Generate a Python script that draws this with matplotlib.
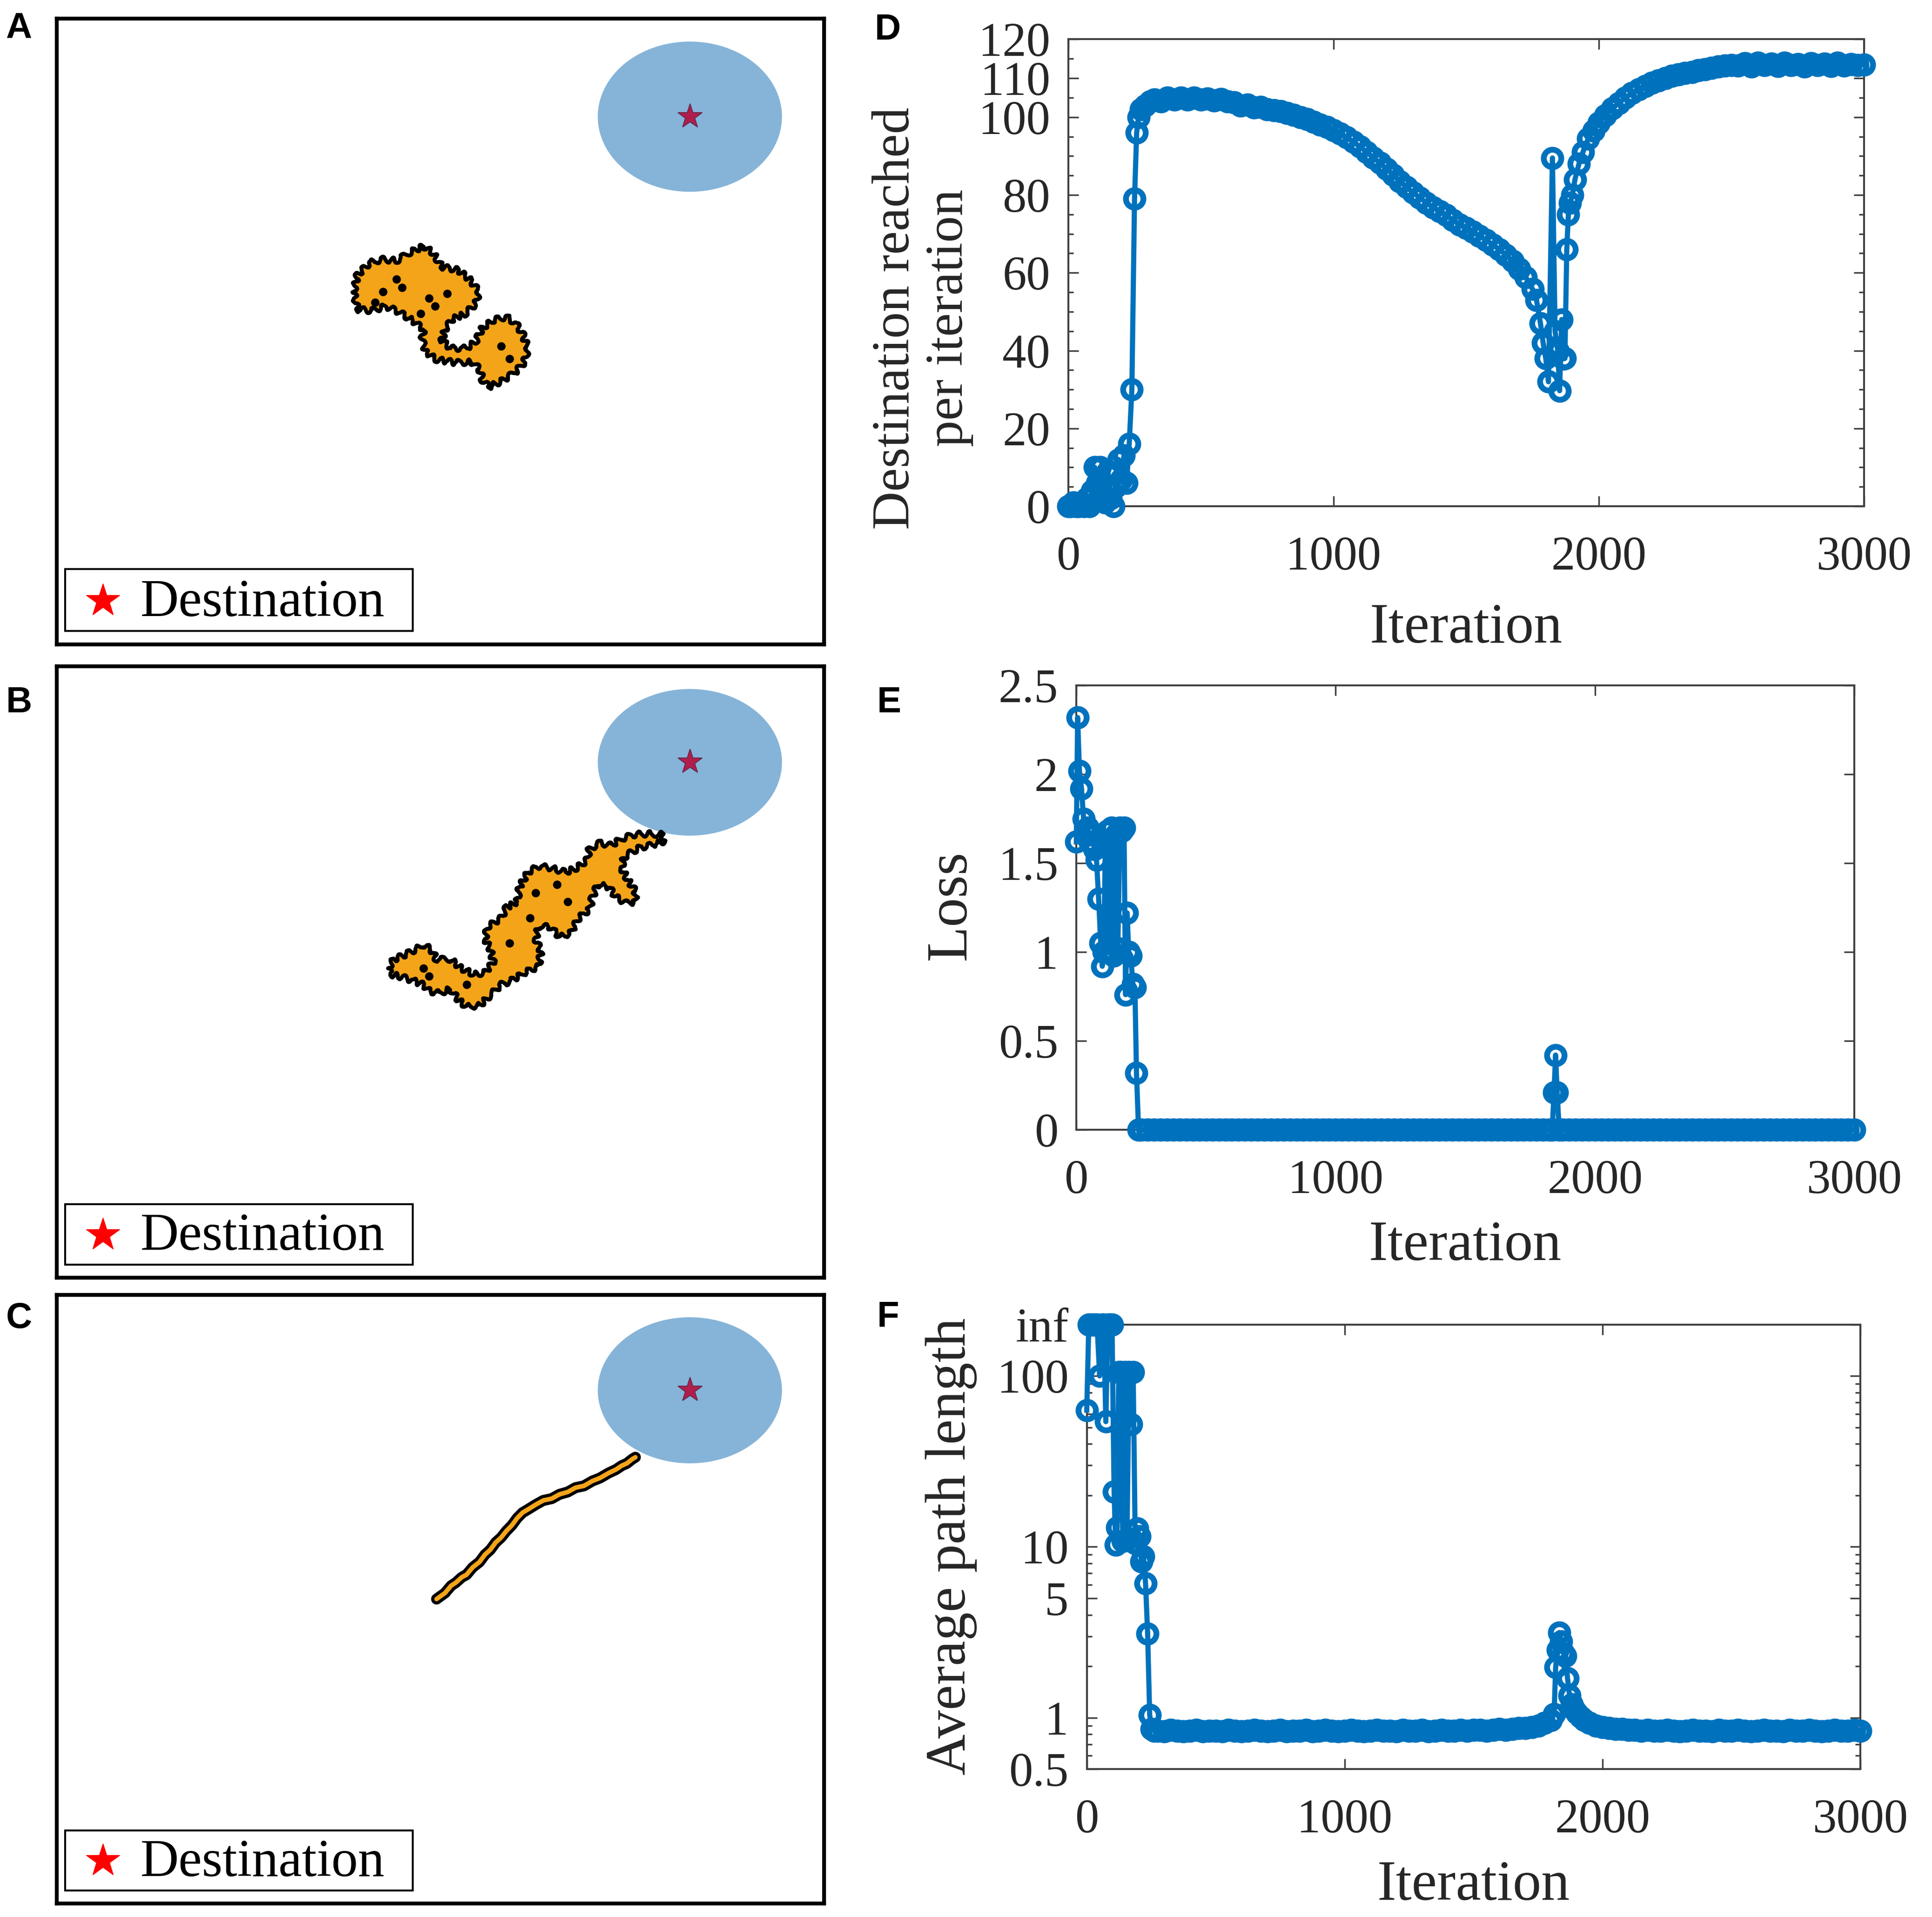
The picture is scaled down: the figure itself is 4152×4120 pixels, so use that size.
import numpy as np
import matplotlib
matplotlib.use("Agg")
import matplotlib.pyplot as plt
from matplotlib.patches import Circle, Polygon, Rectangle
from matplotlib.ticker import MultipleLocator, LogLocator, NullFormatter

plt.rcParams['font.family'] = ['Liberation Serif', 'DejaVu Serif']

BLUE = '#0072BD'
ORANGE = '#F4A418'
DISC = '#86B4D8'
AXCOL = '#404040'
TXT = '#262626'

# ---- field panels A-C (field units 0..100) ----
dest_xy = (82.5, 84.3)
dest_radius = 12.0

blob_a = [(38.7, 56.3), (39.2, 59.0), (40.8, 61.0), (42.5, 61.5), (44.3, 61.3), (46.0, 62.6),
          (47.8, 63.6), (49.0, 62.6), (50.2, 60.3), (52.3, 59.8), (53.9, 58.2), (55.0, 56.3),
          (54.6, 54.4), (53.2, 52.8), (51.6, 52.0), (50.6, 50.3), (50.2, 48.6), (51.3, 47.3),
          (53.4, 47.3), (54.6, 48.4), (55.5, 50.6), (56.9, 51.8), (58.6, 52.3), (59.8, 51.3),
          (60.7, 49.6), (61.4, 47.3), (60.9, 45.0), (59.6, 43.3), (57.9, 42.0), (56.3, 41.1),
          (55.5, 42.2), (55.1, 44.0), (54.1, 45.1), (52.0, 45.0), (49.5, 45.5), (48.1, 46.7),
          (47.6, 48.6), (47.8, 50.3), (46.4, 51.7), (44.6, 53.1), (42.9, 54.0), (41.1, 53.3),
          (39.2, 53.5)]
specks_a = [(42.5, 56.3), (45.0, 57.0), (48.5, 55.3), (49.3, 54.0), (47.4, 52.8), (44.3, 58.3),
            (50.9, 56.0), (41.5, 54.6), (57.9, 47.6), (59.0, 45.6)]

blob_b = [(43.2, 50.6), (43.9, 52.0), (45.7, 53.0), (47.8, 54.4), (48.8, 53.7), (49.5, 52.0),
          (51.3, 52.1), (52.7, 50.6), (54.4, 49.6), (55.8, 49.9), (56.9, 51.6), (56.5, 53.7),
          (55.8, 55.4), (56.2, 57.4), (57.9, 58.8), (58.6, 60.5), (60.0, 61.5), (60.3, 63.9),
          (61.4, 66.3), (62.8, 67.3), (64.5, 67.0), (66.3, 66.3), (67.7, 67.0), (69.1, 68.3),
          (69.4, 70.1), (70.8, 71.1), (72.2, 70.7), (73.6, 71.8), (75.4, 72.5), (77.1, 72.6),
          (78.8, 72.5), (79.2, 71.4), (77.4, 70.7), (76.1, 70.4), (75.0, 69.7), (73.9, 68.7),
          (73.6, 67.0), (74.3, 65.3), (75.4, 63.2), (75.4, 61.5), (74.3, 61.2), (72.9, 62.2),
          (71.9, 63.9), (70.5, 64.3), (69.8, 62.2), (69.4, 60.2), (68.0, 58.8), (67.0, 56.4),
          (65.6, 55.7), (64.2, 57.4), (62.8, 57.4), (62.4, 55.4), (63.1, 53.3), (62.8, 50.9),
          (61.0, 49.9), (59.3, 48.6), (57.9, 47.9), (56.5, 46.2), (55.1, 44.5), (53.4, 44.3),
          (52.3, 45.5), (51.3, 47.2), (49.9, 46.5), (48.5, 46.9), (47.8, 47.9), (46.4, 48.6),
          (44.6, 49.3), (43.5, 49.6)]
specks_b = [(47.8, 50.6), (48.5, 49.3), (62.4, 62.9), (65.2, 64.3), (66.6, 61.5), (59.0, 54.7),
            (61.7, 58.8), (53.4, 47.9)]

path_c = [(49.5, 50.0), (50.6, 51.0), (51.4, 52.2), (52.0, 52.7), (52.8, 53.6), (53.4, 54.0),
          (54.2, 55.2), (55.1, 56.1), (55.8, 57.3), (56.5, 58.1), (57.2, 59.3), (57.9, 60.1),
          (58.6, 61.2), (59.3, 62.1), (60.0, 63.3), (60.7, 64.2), (61.5, 64.8), (62.4, 65.5),
          (63.4, 66.2), (64.5, 66.5), (65.5, 67.2), (66.6, 67.6), (67.6, 68.3), (68.7, 68.6),
          (69.8, 69.4), (70.8, 69.9), (71.9, 70.7), (72.9, 71.3), (73.6, 71.9), (74.3, 72.3),
          (75.0, 73.0), (75.4, 73.3)]

# ---- D: destination reached per iteration ----
d_iter_start = [0, 10, 20, 30, 40, 50, 60, 70, 80, 90, 100, 110, 120, 130, 140, 150, 160, 170,
                180, 190, 200, 210, 220, 230, 240, 250, 258, 265, 275, 290, 310]
d_val_start = [0, 0, 1, 0, 0, 1, 0, 2, 0, 4, 10, 6, 10, 3, 1, 9, 2, 0, 5, 12, 7, 13, 6, 16, 30,
               79, 96, 100, 102, 103, 104]
d_iter_decline = list(range(325, 1751, 25))
d_val_decline = [104.5, 104, 105, 104.5, 105, 104.5, 105, 104.5, 104.8, 104.3,
                 104.6, 104, 103.8, 103, 103.2, 102.5, 102.6, 102, 101.8, 101.5,
                 101, 100.6, 100, 99.5, 98.8, 98, 97.4, 96.6, 95.8, 94.8,
                 93.6, 92.4, 91, 89.6, 88.2, 86.7, 85.2, 83.5, 82, 80.6,
                 79.3, 78, 76.8, 75.8, 74.8, 73.5, 72.4, 71.5, 70.5, 69.5,
                 68.4, 67.2, 66, 64.6, 63, 61, 58.8, 55.8]
d_iter_dip = [1765, 1780, 1790, 1800, 1810, 1825, 1835, 1845, 1852, 1860, 1866, 1872, 1879,
              1885, 1892, 1900, 1910, 1925, 1940, 1960, 1980]
d_val_dip = [53, 47, 42, 38, 32, 89.5, 45, 40, 29.7, 48, 37.9, 38, 66, 75, 78, 80, 84, 88, 91,
             94.5, 96.5]
d_iter_recover = list(range(2000, 2501, 25))
d_val_recover = [98.5, 100.5, 102.2, 103.6, 105, 106.2, 107.2, 108, 108.8, 109.4, 110, 110.6,
                 111, 111.3, 111.6, 112, 112.3, 112.6, 113, 113.2, 113.4]
d_iter_end = list(range(2525, 3001, 25))
d_val_end = [113.2, 113.8, 113.0, 113.9, 113.3, 113.7, 113.1, 113.9, 113.4, 113.6,
             113.0, 113.8, 113.3, 113.7, 113.1, 113.9, 113.2, 113.6, 113.4, 113.5]
d_yticks = [0, 20, 40, 60, 80, 100, 110, 120]

# ---- E: loss ----
e_iter_start = [0, 5, 12, 20, 28, 36, 44, 52, 60, 70, 78, 86, 94, 100, 106, 112, 120, 128, 136,
                144, 152, 160, 168, 176, 184, 190, 196, 202, 210, 218, 226, 232, 240]
e_loss_start = [1.62, 2.32, 2.02, 1.92, 1.75, 1.68, 1.70, 1.62, 1.66, 1.58,
                1.52, 1.30, 1.05, 0.92, 1.00, 1.62, 1.68, 1.00, 1.70, 0.98,
                1.66, 1.02, 1.70, 1.68, 1.70, 0.76, 1.22, 1.00, 0.98, 0.82,
                0.80, 0.32, 0.0]
e_iter_flat1 = list(range(250, 1826, 25))
e_loss_flat1 = [0, 0, 0, 0, 0, 0, 0, 0, 0, 0, 0, 0, 0, 0, 0, 0,
                0, 0, 0, 0, 0, 0, 0, 0, 0, 0, 0, 0, 0, 0, 0, 0,
                0, 0, 0, 0, 0, 0, 0, 0, 0, 0, 0, 0, 0, 0, 0, 0,
                0, 0, 0, 0, 0, 0, 0, 0, 0, 0, 0, 0, 0, 0, 0, 0]
e_iter_spike = [1835, 1842, 1848, 1854, 1862]
e_loss_spike = [0.0, 0.21, 0.42, 0.21, 0.0]
e_iter_flat2 = list(range(1875, 3001, 25))
e_loss_flat2 = [0, 0, 0, 0, 0, 0, 0, 0, 0, 0, 0, 0, 0, 0, 0, 0,
                0, 0, 0, 0, 0, 0, 0, 0, 0, 0, 0, 0, 0, 0, 0, 0,
                0, 0, 0, 0, 0, 0, 0, 0, 0, 0, 0, 0, 0, 0]
e_yticks = [0, 0.5, 1, 1.5, 2, 2.5]
e_yticklabels = ['0', '0.5', '1', '1.5', '2', '2.5']

# ---- F: average path length (inf drawn at the top of the axis) ----
INF_LEVEL = 200
f_iter_start = [0, 8, 16, 24, 32, 40, 50, 58, 66, 74, 82, 90, 98, 106, 112, 118, 124, 132,
                140, 148, 156, 164, 172, 180, 188, 196, 204, 212, 220, 228, 236, 244, 252, 262]
f_val_start = [63, 200, 200, 200, 200, 200, 100, 200, 200, 54,
               200, 200, 200, 21, 10.3, 13, 105, 105, 10.8, 105,
               11, 105, 52, 105, 10.5, 12.8, 11.5, 8.2, 8.8, 6.1,
               3.1, 1.04, 0.86, 0.84]
f_iter_plateau = list(range(275, 1801, 25))
f_val_plateau = [0.84, 0.83, 0.85, 0.84, 0.83, 0.84, 0.85, 0.83, 0.84, 0.84,
                 0.83, 0.85, 0.84, 0.83, 0.84, 0.85, 0.84, 0.83, 0.84, 0.85,
                 0.83, 0.84, 0.84, 0.85, 0.83, 0.84, 0.85, 0.84, 0.83, 0.84,
                 0.85, 0.84, 0.83, 0.84, 0.85, 0.84, 0.84, 0.83, 0.85, 0.84,
                 0.84, 0.85, 0.83, 0.84, 0.85, 0.84, 0.84, 0.85, 0.84, 0.85,
                 0.85, 0.84, 0.85, 0.86, 0.85, 0.86, 0.87, 0.87, 0.88, 0.90,
                 0.93, 0.97]
f_iter_spike = [1812, 1818, 1826, 1832, 1840, 1848, 1856, 1864, 1872, 1880, 1890, 1900, 1915,
                1930, 1950, 1975, 2000, 2025, 2050]
f_val_spike = [1.05, 1.98, 2.5, 3.15, 2.8, 2.39, 2.3, 1.7, 1.35, 1.2, 1.12, 1.06, 1.01, 0.97,
               0.93, 0.90, 0.88, 0.87, 0.86]
f_iter_end = list(range(2075, 3001, 25))
f_val_end = [0.86, 0.85, 0.85, 0.84, 0.85, 0.84, 0.84, 0.85, 0.84, 0.83,
             0.84, 0.85, 0.84, 0.84, 0.83, 0.85, 0.84, 0.84, 0.85, 0.84,
             0.83, 0.84, 0.85, 0.84, 0.84, 0.83, 0.85, 0.84, 0.84, 0.85,
             0.84, 0.83, 0.84, 0.85, 0.84, 0.84, 0.85, 0.84]
f_yticks = [0.5, 1, 5, 10, 100, INF_LEVEL]
f_yticklabels = ['0.5', '1', '5', '10', '100', 'inf']

x_ticks = [0, 1000, 2000, 3000]


def joined(*pairs):
    xs, ys = [], []
    for x, y in pairs:
        assert len(x) == len(y), (len(x), len(y))
        xs += list(x); ys += list(y)
    return np.array(xs, float), np.array(ys, float)


def draw_field(ax, blob=None, specks=None, path=None):
    ax.set_xlim(0, 100); ax.set_ylim(0, 100)
    ax.set_xticks([]); ax.set_yticks([])
    for s in ax.spines.values():
        s.set_linewidth(6); s.set_color('black')
    ax.add_patch(Circle(dest_xy, dest_radius, facecolor=DISC, edgecolor='none', zorder=1))
    ax.plot(*dest_xy, ls='none', marker='*', ms=40, color='#B01E4B', mec='#6A2A50', mew=1.5, zorder=4)
    if blob is not None:
        poly = Polygon(blob, closed=True, facecolor=ORANGE, edgecolor='black', lw=6,
                       joinstyle='round', zorder=2)
        poly.set_sketch_params(6, 26, 3)
        ax.add_patch(poly)
    if specks is not None:
        sx, sy = zip(*specks)
        ax.scatter(sx, sy, s=170, color='black', zorder=3, linewidths=0)
    if path is not None:
        px, py = zip(*path)
        ax.plot(px, py, color='black', lw=17, solid_capstyle='round', solid_joinstyle='round', zorder=2)
        ax.plot(px, py, color=ORANGE, lw=7, solid_capstyle='round', solid_joinstyle='round', zorder=3)
    # legend box drawn by hand so the padding matches
    ax.add_patch(Rectangle((0.0112, 0.021), 0.4527, 0.099, transform=ax.transAxes,
                           facecolor='white', edgecolor='black', lw=3, zorder=5))
    ax.plot([0.06], [0.07], transform=ax.transAxes, ls='none', marker='*', ms=54,
            color='red', mec='red', zorder=6)
    ax.text(0.109, 0.045, 'Destination', transform=ax.transAxes, fontsize=82,
            va='baseline', ha='left', color='black', zorder=6)


def style_plot(ax):
    for s in ax.spines.values():
        s.set_linewidth(3); s.set_color(AXCOL)
    ax.tick_params(which='both', direction='in', top=True, right=True, colors=AXCOL,
                   labelcolor=TXT, labelsize=74, width=2.5)
    ax.tick_params(which='major', length=16)
    ax.tick_params(axis='y', which='major', pad=28)
    ax.tick_params(axis='x', which='major', pad=46)
    ax.tick_params(which='minor', length=8)
    ax.set_xlim(0, 3000)
    ax.set_xticks(x_ticks)
    ax.set_xlabel('Iteration', fontsize=88, color=TXT, va='center')
    ax.xaxis.set_label_coords(0.5, -0.262)


def curve(ax, x, y):
    ax.plot(x, y, '-o', color=BLUE, ms=27, mfc='none', mew=9, lw=8, clip_on=False, zorder=3)


fig = plt.figure(figsize=(41.52, 41.20), dpi=100)

field_boxes = [(0.0293, 0.6639, 0.3973, 0.3265),
               (0.0293, 0.3336, 0.3973, 0.3188),
               (0.0293, 0.0071, 0.3973, 0.3175)]
axA = fig.add_axes(field_boxes[0]); draw_field(axA, blob=blob_a, specks=specks_a)
axB = fig.add_axes(field_boxes[1]); draw_field(axB, blob=blob_b, specks=specks_b)
axC = fig.add_axes(field_boxes[2]); draw_field(axC, path=path_c)

# D
axD = fig.add_axes([0.5529, 0.7359, 0.4120, 0.2436])
xd, yd = joined((d_iter_start, d_val_start), (d_iter_decline, d_val_decline),
                (d_iter_dip, d_val_dip), (d_iter_recover, d_val_recover), (d_iter_end, d_val_end))
curve(axD, xd, yd)
style_plot(axD)
axD.set_ylim(0, 120)
axD.set_yticks(d_yticks)
axD.yaxis.set_minor_locator(MultipleLocator(5))
axD.set_ylabel('Destination reached\nper iteration', fontsize=82, color=TXT, va='center',
               linespacing=1.15)
axD.yaxis.set_label_coords(-0.183, 0.403)

# E
axE = fig.add_axes([0.5571, 0.4107, 0.4027, 0.2317])
xe, ye = joined((e_iter_start, e_loss_start), (e_iter_flat1, e_loss_flat1),
                (e_iter_spike, e_loss_spike), (e_iter_flat2, e_loss_flat2))
curve(axE, xe, ye)
style_plot(axE)
axE.set_ylim(0, 2.5)
axE.set_yticks(e_yticks)
axE.set_yticklabels(e_yticklabels)
axE.set_ylabel('Loss', fontsize=90, color=TXT, va='center')
axE.yaxis.set_label_coords(-0.161, 0.505)

# F
axF = fig.add_axes([0.5625, 0.0771, 0.4005, 0.2320])
xf, yf = joined((f_iter_start, f_val_start), (f_iter_plateau, f_val_plateau),
                (f_iter_spike, f_val_spike), (f_iter_end, f_val_end))
curve(axF, xf, yf)
style_plot(axF)
axF.set_yscale('log')
axF.set_ylim(0.5, INF_LEVEL)
axF.set_yticks(f_yticks)
axF.set_yticklabels(f_yticklabels)
axF.yaxis.set_minor_locator(LogLocator(base=10, subs=np.arange(2, 10)))
axF.yaxis.set_minor_formatter(NullFormatter())
axF.set_ylabel('Average path length', fontsize=88, color=TXT, va='center')
axF.yaxis.set_label_coords(-0.175, 0.501)

# panel letters
letter_kw = dict(fontsize=56, fontweight='bold', family=['Liberation Sans', 'DejaVu Sans'],
                 ha='left', va='baseline', color='black')
fig.text(0.0030, 0.9801, 'A', **letter_kw)
fig.text(0.0030, 0.6285, 'B', **letter_kw)
fig.text(0.0030, 0.3072, 'C', **letter_kw)
fig.text(0.4528, 0.9794, 'D', **letter_kw)
fig.text(0.4540, 0.6285, 'E', **letter_kw)
fig.text(0.4540, 0.3078, 'F', **letter_kw)

fig.savefig('out.png', dpi=100, facecolor='white')
